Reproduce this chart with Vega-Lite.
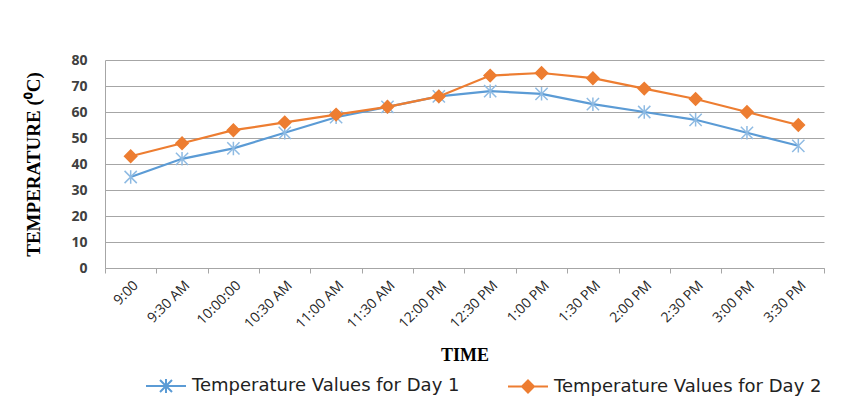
{
  "$schema": "https://vega.github.io/schema/vega-lite/v6.json",
  "width": 719,
  "height": 208,
  "autosize": "none",
  "padding": {"left": 105, "top": 60, "right": 27, "bottom": 132},
  "background": "white",
  "config": {
    "view": {"stroke": null},
    "font": "Open Sans"
  },
  "data": {
    "values": [
      {"time": "9:00", "series": "Temperature Values for Day 1", "temp": 35},
      {"time": "9:30 AM", "series": "Temperature Values for Day 1", "temp": 42},
      {"time": "10:00:00", "series": "Temperature Values for Day 1", "temp": 46},
      {"time": "10:30 AM", "series": "Temperature Values for Day 1", "temp": 52},
      {"time": "11:00 AM", "series": "Temperature Values for Day 1", "temp": 58},
      {"time": "11:30 AM", "series": "Temperature Values for Day 1", "temp": 62},
      {"time": "12:00 PM", "series": "Temperature Values for Day 1", "temp": 66},
      {"time": "12:30 PM", "series": "Temperature Values for Day 1", "temp": 68},
      {"time": "1:00 PM", "series": "Temperature Values for Day 1", "temp": 67},
      {"time": "1:30 PM", "series": "Temperature Values for Day 1", "temp": 63},
      {"time": "2:00 PM", "series": "Temperature Values for Day 1", "temp": 60},
      {"time": "2:30 PM", "series": "Temperature Values for Day 1", "temp": 57},
      {"time": "3:00 PM", "series": "Temperature Values for Day 1", "temp": 52},
      {"time": "3:30 PM", "series": "Temperature Values for Day 1", "temp": 47},
      {"time": "9:00", "series": "Temperature Values for Day 2", "temp": 43},
      {"time": "9:30 AM", "series": "Temperature Values for Day 2", "temp": 48},
      {"time": "10:00:00", "series": "Temperature Values for Day 2", "temp": 53},
      {"time": "10:30 AM", "series": "Temperature Values for Day 2", "temp": 56},
      {"time": "11:00 AM", "series": "Temperature Values for Day 2", "temp": 59},
      {"time": "11:30 AM", "series": "Temperature Values for Day 2", "temp": 62},
      {"time": "12:00 PM", "series": "Temperature Values for Day 2", "temp": 66},
      {"time": "12:30 PM", "series": "Temperature Values for Day 2", "temp": 74},
      {"time": "1:00 PM", "series": "Temperature Values for Day 2", "temp": 75},
      {"time": "1:30 PM", "series": "Temperature Values for Day 2", "temp": 73},
      {"time": "2:00 PM", "series": "Temperature Values for Day 2", "temp": 69},
      {"time": "2:30 PM", "series": "Temperature Values for Day 2", "temp": 65},
      {"time": "3:00 PM", "series": "Temperature Values for Day 2", "temp": 60},
      {"time": "3:30 PM", "series": "Temperature Values for Day 2", "temp": 55}
    ]
  },
  "encoding": {
    "x": {
      "field": "time", "type": "nominal", "sort": null,
      "scale": {"paddingInner": 0, "paddingOuter": 0},
      "axis": {
        "title": "TIME", "titleFont": "Liberation Serif", "titleFontWeight": "bold", "titleFontSize": 18, "titleColor": "#000", "titlePadding": 16,
        "labelAngle": -45, "labelFontSize": 14, "labelColor": "#262626", "labelPadding": 5,
        "tickBand": "extent", "tickColor": "#a6a6a6", "tickSize": 5, "domainColor": "#a6a6a6",
        "grid": false
      }
    },
    "y": {
      "field": "temp", "type": "quantitative",
      "scale": {"domain": [0, 80]},
      "axis": {
        "title": "TEMPERATURE (⁰C)", "titleFont": "Liberation Serif", "titleFontWeight": "bold", "titleFontSize": 19, "titleColor": "#000", "titlePadding": 27,
        "values": [0, 10, 20, 30, 40, 50, 60, 70, 80],
        "labelFontSize": 14, "labelFontWeight": "bold", "labelColor": "#404040", "labelPadding": 18,
        "ticks": false, "domainColor": "#a6a6a6", "gridColor": "#a6a6a6", "gridOpacity": 1
      }
    },
    "color": {
      "field": "series", "type": "nominal",
      "scale": {"range": ["#5B9BD5", "#ED7D31"]},
      "legend": {
        "orient": "none", "legendX": 50, "legendY": 315, "title": null, "direction": "horizontal",
        "labelFontSize": 18, "labelColor": "#222", "labelFont": "DejaVu Sans", "labelLimit": 500,
        "symbolSize": 400, "symbolStrokeWidth": 2, "labelOffset": 15, "columnPadding": 44,
        "encode": {
          "symbols": {
            "update": {
              "shape": {"signal": "datum.value == 'Temperature Values for Day 1' ? 'M-2,0L2,0M-0.6,-0.6L0.6,0.6M-0.6,0.6L0.6,-0.6M0,-0.7L0,0.7' : 'M-2,0L2,0M0,-0.6L0.6,0L0,0.6L-0.6,0Z'"},
              "fill": {"signal": "datum.value == 'Temperature Values for Day 2' ? '#ED7D31' : 'transparent'"},
              "fillOpacity": {"value": 1}
            }
          }
        }
      }
    }
  },
  "layer": [
    {"mark": {"type": "line", "strokeWidth": 2.2}},
    {
      "mark": {"type": "point", "filled": true, "opacity": 1},
      "encoding": {
        "shape": {
          "field": "series", "type": "nominal", "legend": null,
          "scale": {"range": ["M-1,-1L1,1M-1,1L1,-1M0,-1.1L0,1.1", "diamond"]}
        },
        "size": {"value": 150},
        "fill": {
          "field": "series", "type": "nominal", "legend": null,
          "scale": {"range": ["transparent", "#ED7D31"]}
        },
        "stroke": {
          "field": "series", "type": "nominal", "legend": null,
          "scale": {"range": ["#8FBBE3", "#ED7D31"]}
        },
        "strokeWidth": {"value": 1.5}
      }
    }
  ]
}
